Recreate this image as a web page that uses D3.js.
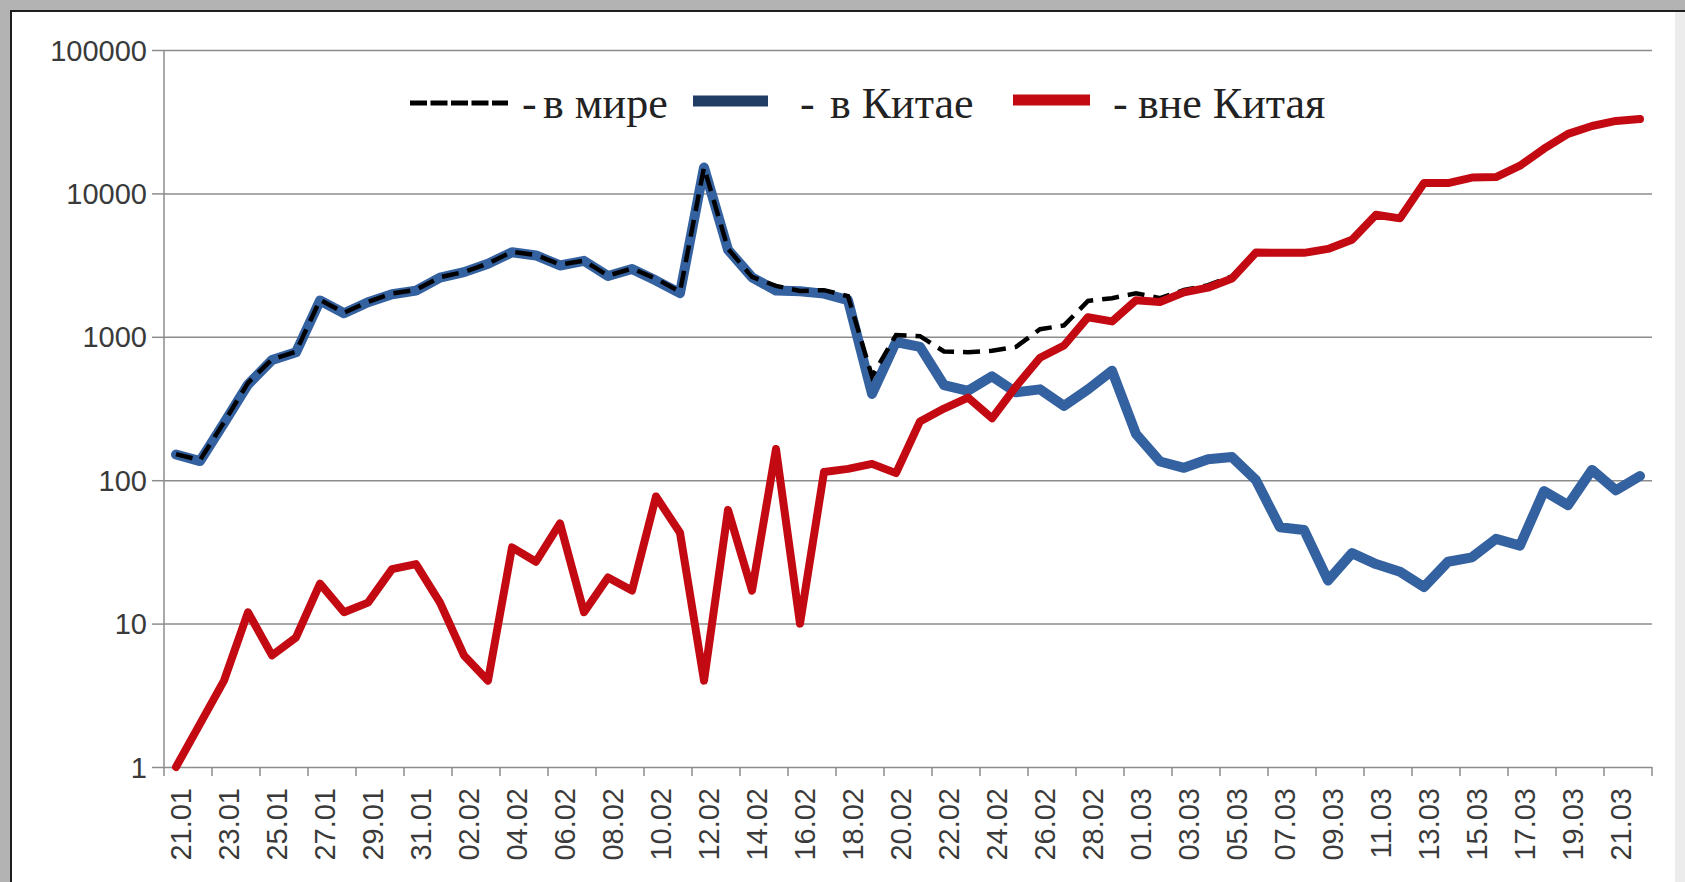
<!DOCTYPE html>
<html>
<head>
<meta charset="utf-8">
<script src="https://cdn.jsdelivr.net/npm/d3@7"></script>
<style>
  html, body { margin: 0; padding: 0; background: #fff; }
  svg { display: block; }
</style>
</head>
<body>
<div id="chart"></div>
<script>
// Dates 21.01 .. 22.03 (2020), daily
const dates = [
  '21.01','22.01','23.01','24.01','25.01','26.01','27.01','28.01','29.01','30.01','31.01',
  '01.02','02.02','03.02','04.02','05.02','06.02','07.02','08.02','09.02','10.02',
  '11.02','12.02','13.02','14.02','15.02','16.02','17.02','18.02','19.02','20.02',
  '21.02','22.02','23.02','24.02','25.02','26.02','27.02','28.02','29.02',
  '01.03','02.03','03.03','04.03','05.03','06.03','07.03','08.03','09.03','10.03',
  '11.03','12.03','13.03','14.03','15.03','16.03','17.03','18.03','19.03','20.03',
  '21.03','22.03'
];

// new cases in China
const china = [
  151, 136, 250, 465, 690, 780, 1790, 1460, 1740, 1980, 2100,
  2590, 2825, 3235, 3884, 3694, 3143, 3385, 2652, 2973, 2467,
  2015, 15152, 4050, 2600, 2100, 2080, 2000, 1800, 400, 920,
  850, 460, 420, 530, 410, 430, 330, 430, 580,
  210, 135, 122, 140, 145, 100, 47, 45, 20, 31,
  26, 23, 18, 27, 29, 39, 35, 84, 67, 118,
  85, 107
];

// new cases outside China
const outside = [
  1, 2, 4, 12, 6, 8, 19, 12, 14, 24, 26,
  14, 6, 4, 34, 27, 50, 12, 21, 17, 77,
  43, 4, 62, 17, 165, 10, 114, 120, 130, 112,
  257, 316, 377, 270, 450, 715, 870, 1370, 1280,
  1800, 1750, 2040, 2200, 2550, 3870, 3850, 3850, 4100, 4750,
  7100, 6700, 11800, 11800, 12900, 13000, 15600, 20500, 26000, 29500,
  32000, 33000
];

// new cases in the world
const world = [
  152, 138, 254, 477, 696, 788, 1809, 1472, 1754, 2004, 2126,
  2604, 2831, 3239, 3918, 3721, 3193, 3397, 2673, 2990, 2544,
  2058, 15156, 4112, 2617, 2265, 2090, 2114, 1920, 530, 1030,
  1010, 790, 780, 800, 850, 1130, 1200, 1780, 1860,
  2010, 1860, 2120, 2290, 2640, 3940, 3880, 3880, 4110, 4770,
  7120, 6720, 11810, 11820, 12920, 13030, 15630, 20580, 26060, 29610,
  32080, 33100
];

const yTicks = [1, 10, 100, 1000, 10000, 100000];

const W = 1685, H = 882;
const plotLeft = 164, plotRight = 1652, plotTop = 50, plotBottom = 767;

const svg = d3.select('#chart').append('svg')
  .attr('width', W).attr('height', H);

// frame
svg.append('rect').attr('width', W).attr('height', H).attr('fill', '#b3b3b3');
svg.append('rect').attr('x', 12).attr('y', 12).attr('width', W - 12).attr('height', H - 12).attr('fill', '#fff');
svg.append('rect').attr('x', 1675).attr('y', 12).attr('width', 10).attr('height', H - 12).attr('fill', '#ececec');
svg.append('line').attr('x1', 10).attr('x2', W).attr('y1', 11).attr('y2', 11)
  .attr('stroke', '#1e1e1e').attr('stroke-width', 2);
svg.append('line').attr('x1', 11).attr('x2', 11).attr('y1', 10).attr('y2', H)
  .attr('stroke', '#1e1e1e').attr('stroke-width', 2);

const x = d3.scalePoint().domain(dates).range([plotLeft, plotRight]).padding(0.5);
const y = d3.scaleLog().domain([1, 100000]).range([plotBottom, plotTop]);

// gridlines + y axis
const yAxis = d3.axisLeft(y).tickValues(yTicks).tickFormat(d3.format('d'))
  .tickSize(-(plotRight - plotLeft)).tickPadding(17);
const gy = svg.append('g').attr('transform', `translate(${plotLeft},0)`).call(yAxis);
gy.select('.domain').remove();
gy.selectAll('.tick line').attr('stroke', '#8c8c8c').attr('stroke-width', 1.5);
gy.selectAll('.tick').append('line').attr('x1', -12).attr('x2', 0)
  .attr('stroke', '#8c8c8c').attr('stroke-width', 1.5);
gy.selectAll('.tick text')
  .attr('font-family', 'Liberation Sans, Arial, sans-serif')
  .attr('font-size', 29).attr('fill', '#3a3a3a').attr('dy', '0.35em');

svg.append('line').attr('x1', plotLeft).attr('x2', plotLeft).attr('y1', plotTop).attr('y2', plotBottom)
  .attr('stroke', '#8c8c8c').attr('stroke-width', 1.5);

// x axis
const step = x.step();
const tickPos = d3.range(0, dates.length + 1, 2).map(i => plotLeft + i * step);
svg.append('g').selectAll('line').data(tickPos).join('line')
  .attr('x1', d => d).attr('x2', d => d).attr('y1', plotBottom).attr('y2', plotBottom + 9)
  .attr('stroke', '#8c8c8c').attr('stroke-width', 1.5);

svg.append('g').selectAll('text')
  .data(dates.filter((d, i) => i % 2 === 0)).join('text')
  .attr('transform', d => `translate(${x(d) + 5},${plotBottom + 21}) rotate(-90)`)
  .attr('text-anchor', 'end').attr('dy', '0.35em')
  .attr('font-family', 'Liberation Sans, Arial, sans-serif')
  .attr('font-size', 29).attr('fill', '#3a3a3a')
  .text(d => d);

// series
const line = values => d3.line()
  .x((v, i) => x(dates[i]))
  .y(v => y(v))(values);

svg.append('path').attr('d', line(china)).attr('fill', 'none')
  .attr('stroke', '#3461a0').attr('stroke-width', 10)
  .attr('stroke-linejoin', 'round').attr('stroke-linecap', 'round');

svg.append('path').attr('d', line(world)).attr('fill', 'none')
  .attr('stroke', '#000').attr('stroke-width', 4.5)
  .attr('stroke-dasharray', '17,9');

svg.append('path').attr('d', line(outside)).attr('fill', 'none')
  .attr('stroke', '#c30a12').attr('stroke-width', 8)
  .attr('stroke-linejoin', 'round').attr('stroke-linecap', 'round');

// legend
const legend = svg.append('g')
  .attr('font-family', 'Liberation Serif, Times New Roman, serif')
  .attr('font-size', 44).attr('fill', '#222');

legend.append('line').attr('x1', 410).attr('x2', 508).attr('y1', 103).attr('y2', 103)
  .attr('stroke', '#000').attr('stroke-width', 5).attr('stroke-dasharray', '17,3.5');
legend.append('text').attr('x', 522).attr('y', 118).text('-');
legend.append('text').attr('x', 543).attr('y', 118).text('в мире');

legend.append('line').attr('x1', 693).attr('x2', 768).attr('y1', 101).attr('y2', 101)
  .attr('stroke', '#213d66').attr('stroke-width', 11);
legend.append('text').attr('x', 800).attr('y', 118).text('-');
legend.append('text').attr('x', 830).attr('y', 118).text('в Китае');

legend.append('line').attr('x1', 1013).attr('x2', 1090).attr('y1', 100).attr('y2', 100)
  .attr('stroke', '#c30a12').attr('stroke-width', 11);
legend.append('text').attr('x', 1113).attr('y', 118).text('-');
legend.append('text').attr('x', 1138).attr('y', 118).text('вне Китая');
</script>
</body>
</html>
